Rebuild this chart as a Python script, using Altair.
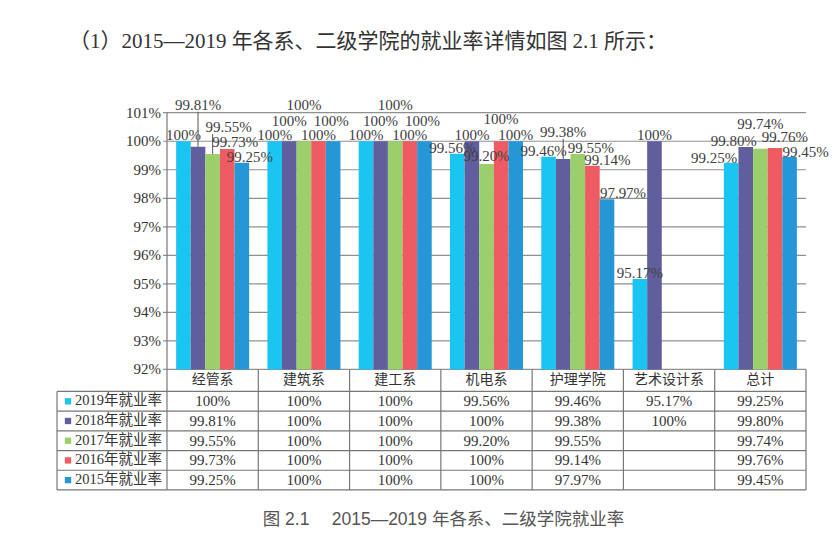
import altair as alt
import pandas as pd

# ---------------- data ----------------
CATEGORIES = ["经管系", "建筑系", "建工系", "机电系", "护理学院", "艺术设计系", "总计"]
SERIES = ["2019年就业率", "2018年就业率", "2017年就业率", "2016年就业率", "2015年就业率"]
RATE_2019 = [100, 100, 100, 99.56, 99.46, 95.17, 99.25]
RATE_2018 = [99.81, 100, 100, 100, 99.38, 100, 99.80]
RATE_2017 = [99.55, 100, 100, 99.20, 99.55, None, 99.74]
RATE_2016 = [99.73, 100, 100, 100, 99.14, None, 99.76]
RATE_2015 = [99.25, 100, 100, 100, 97.97, None, 99.45]
RATES = [RATE_2019, RATE_2018, RATE_2017, RATE_2016, RATE_2015]
Y_TICKS = [92, 93, 94, 95, 96, 97, 98, 99, 100, 101]
COLORS = ["#1BC5F2", "#615E9E", "#9BCF6C", "#EE5B62", "#2697D6"]

HEADING = "（1）2015—2019 年各系、二级学院的就业率详情如图 2.1 所示："
CAPTION = "图 2.1\u2002\u2002 2015—2019 年各系、二级学院就业率"

# ---------------- layout (pixels) ----------------
CAT_PX = 91.29        # width of one category column
LEG_PX = 110          # width of legend column of the table
PCT_PX = 28.53        # pixels per 1 %
HEAD_PX = 22          # table header row height
ROW_PX = 19.7         # table row height
BAR_W = 0.16          # bar width in category units
GROUP_PAD = 0.1

# label offsets (px): horizontal shift, and height of label centre above bar top
LABEL_DX = [
    [0, 0, 0, -5, -5, 0, -17],
    [0, 0, 0, 0, 0, 0, -12],
    [16, 0, 0, 0, 13, 0, 0],
    [8, 0, 0, 0, 15, 0, 10],
    [8, -2, -2, 0, 16, 0, 16],
]
LABEL_DY = [
    [6, 6, 6, 6, 6, 6, 5],
    [42, 20, 20, 6, 27, 6, 6],
    [27, 36, 36, 8, 6, 6, 25],
    [7, 6, 6, 22, 6, 6, 11],
    [6, 20, 20, 6, 6, 6, 5],
]
LEADERS = [(0, 1), (0, 2), (4, 1)]  # (category, series)

N = len(CATEGORIES)
W = CAT_PX * N + LEG_PX
X_MIN = -LEG_PX / CAT_PX
X_MAX = N
Y_TOP = 101
Y_BASE = 92
H = PCT_PX * (Y_TOP - Y_BASE) + HEAD_PX + 5 * ROW_PX
Y_MIN = Y_BASE - (HEAD_PX + 5 * ROW_PX) / PCT_PX

SERIF = "Liberation Serif, Noto Sans CJK SC"
SANS = "Liberation Sans, Noto Sans CJK SC"

XSCALE = alt.Scale(domain=[X_MIN, X_MAX], nice=False, zero=False)
YSCALE = alt.Scale(domain=[Y_MIN, Y_TOP], nice=False, zero=False)


def fmt(v):
    return "100%" if v == 100 else f"{v:.2f}%"


def X(field):
    return alt.X(field, scale=XSCALE, axis=None)


def Y(field):
    return alt.Y(field, scale=YSCALE, axis=None)


def XD(v):
    return alt.XDatum(v, scale=XSCALE, axis=None)


def YD(v):
    return alt.YDatum(v, scale=YSCALE, axis=None)


# bar records
rows = []
for si, (s, vals) in enumerate(zip(SERIES, RATES)):
    for ci, (c, v) in enumerate(zip(CATEGORIES, vals)):
        if v is None:
            continue
        rows.append(dict(cat=c, series=s, ci=ci, si=si, value=v, label=fmt(v),
                         ldx=LABEL_DX[si][ci], ldy=LABEL_DY[si][ci],
                         leader=(ci, si) in LEADERS))
bars = pd.DataFrame(rows)

base = alt.Chart(bars).transform_calculate(
    x0=f"datum.ci + {GROUP_PAD} + datum.si * {BAR_W}",
    x1=f"datum.ci + {GROUP_PAD} + (datum.si + 1) * {BAR_W}",
    xc=f"datum.ci + {GROUP_PAD} + (datum.si + 0.5) * {BAR_W}",
).transform_calculate(
    lx=f"datum.xc + datum.ldx / {CAT_PX}",
    ly=f"datum.value + datum.ldy / {PCT_PX}",
    ltop=f"datum.value + (datum.ldy - 7) / {PCT_PX}",
)

color = alt.Color("series:N", scale=alt.Scale(domain=SERIES, range=COLORS), legend=None)

bar_layer = base.mark_bar().encode(
    x=X("x0:Q"), x2="x1:Q", y=Y("value:Q"), y2=alt.datum(Y_BASE), color=color
)

leader_layer = base.transform_filter("datum.leader").mark_rule(color="#555", strokeWidth=1).encode(
    x=X("xc:Q"), y=Y("value:Q"), y2="ltop:Q"
)

label_layer = base.mark_text(font=SERIF, fontSize=15, color="#404040", baseline="middle").encode(
    x=X("lx:Q"), y=Y("ly:Q"), text="label:N"
)

# gridlines with ticks
grid = pd.DataFrame({"v": Y_TICKS, "lab": [f"{v}%" for v in Y_TICKS]})
grid_layer = alt.Chart(grid).mark_rule(color="#909090", strokeWidth=1.2).encode(
    x=XD(-4 / CAT_PX), x2=alt.datum(X_MAX), y=Y("v:Q")
)
ytick_layer = alt.Chart(grid).mark_text(font=SERIF, fontSize=15, color="#333", align="right",
                                         baseline="middle", dx=-6).encode(
    x=XD(0), y=Y("v:Q"), text="lab:N"
)

# table grid lines
row_bounds = [Y_BASE - (HEAD_PX + r * ROW_PX) / PCT_PX for r in range(6)]
segs = []
for yb in row_bounds:
    segs.append(dict(x=X_MIN, x2=X_MAX, y=yb, y2=yb))
segs.append(dict(x=0, x2=0, y=Y_MIN, y2=Y_TOP))
for ci in range(1, N + 1):
    segs.append(dict(x=ci, x2=ci, y=Y_MIN, y2=Y_BASE))
segs.append(dict(x=X_MIN, x2=X_MIN, y=Y_MIN, y2=row_bounds[0]))
segs = pd.DataFrame(segs)
table_lines = alt.Chart(segs).mark_rule(color="#777", strokeWidth=1.2).encode(
    x=X("x:Q"), x2="x2:Q", y=Y("y:Q"), y2="y2:Q"
)

# table header and cells
head = pd.DataFrame({"cat": CATEGORIES, "ci": list(range(N))})
head_layer = alt.Chart(head).transform_calculate(
    xc="datum.ci + 0.5"
).mark_text(font=SERIF, fontSize=14, color="#333", baseline="middle").encode(
    x=X("xc:Q"), y=YD(Y_BASE - HEAD_PX / 2 / PCT_PX), text="cat:N"
)

cell_layer = base.transform_calculate(
    cx="datum.ci + 0.5",
    cy=f"{Y_BASE} - ({HEAD_PX} + (datum.si + 0.5) * {ROW_PX}) / {PCT_PX}",
).mark_text(font=SERIF, fontSize=15, color="#333", baseline="middle").encode(
    x=X("cx:Q"), y=Y("cy:Q"), text="label:N"
)

# legend column
leg = pd.DataFrame({"series": SERIES, "si": list(range(len(SERIES)))})
leg_base = alt.Chart(leg).transform_calculate(
    cy=f"{Y_BASE} - ({HEAD_PX} + (datum.si + 0.5) * {ROW_PX}) / {PCT_PX}",
    sx=f"{X_MIN} + 11 / {CAT_PX}",
)
leg_sq = leg_base.mark_square(size=40, opacity=1).encode(
    x=X("sx:Q"), y=Y("cy:Q"), color=color
)
leg_txt = leg_base.mark_text(font=SERIF, fontSize=14.5, color="#333", align="left",
                             baseline="middle", dx=18).encode(
    x=XD(X_MIN), y=Y("cy:Q"), text="series:N"
)

caption = alt.Chart(pd.DataFrame({"t": [CAPTION]})).mark_text(
    font=SANS, fontSize=17.5, color="#555", baseline="middle", dy=30, dx=12
).encode(x=XD((X_MIN + X_MAX) / 2), y=YD(Y_MIN), text="t:N")

chart = alt.layer(
    grid_layer, bar_layer, leader_layer, label_layer, ytick_layer,
    table_lines, head_layer, cell_layer, leg_sq, leg_txt, caption
).properties(
    width=W, height=H,
    autosize=alt.AutoSizeParams(type="none"),
    padding={"left": 49, "top": 104.7, "right": 26, "bottom": 38},
    title=alt.TitleParams(HEADING, anchor="start", frame="group", dx=12, offset=46,
                          font=SERIF, fontSize=21, fontWeight="normal", color="#333"),
    background="white",
).configure_view(strokeWidth=0)

chart.save("out.html", embed_options={"renderer": "svg", "actions": False})
